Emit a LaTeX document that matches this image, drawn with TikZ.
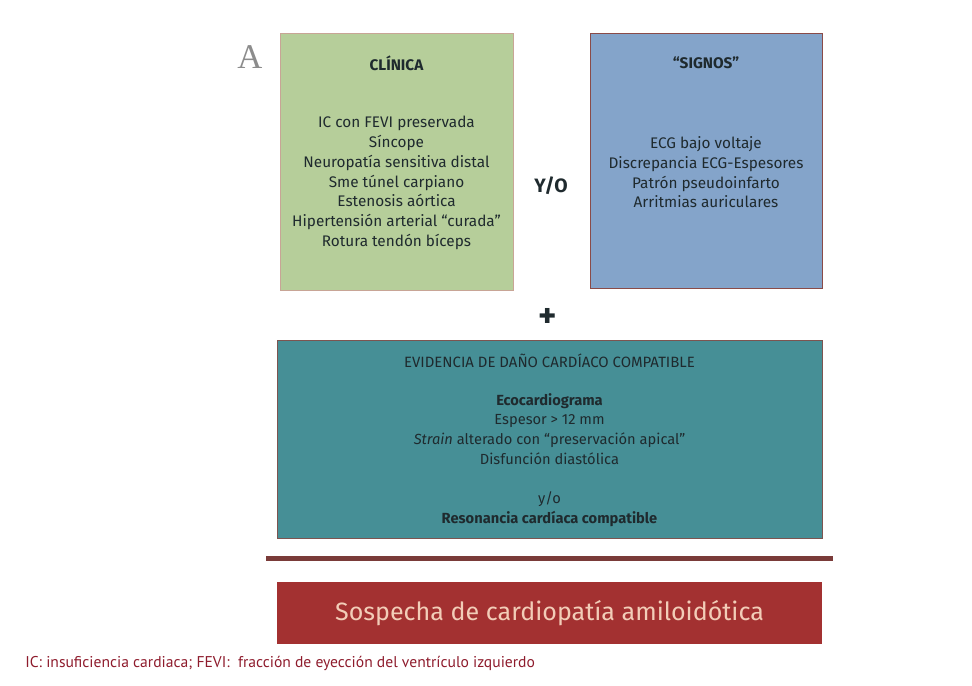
\documentclass[tikz,border=0pt]{standalone}
\usepackage{fontspec}
\setmainfont{Fira Sans}
\newfontfamily\notefont{PT Sans}
\newfontfamily\letterfont{Liberation Serif}
\usetikzlibrary{positioning}
\definecolor{cGreen}{HTML}{B6CE9A}
\definecolor{cGreenLine}{HTML}{C8A596}
\definecolor{cBlue}{HTML}{84A4CA}
\definecolor{cBlueLine}{HTML}{8A4B48}
\definecolor{cTeal}{HTML}{468F96}
\definecolor{cTealLine}{HTML}{7D5450}
\definecolor{cRed}{HTML}{A33131}
\definecolor{cRedDark}{HTML}{7A3B39}
\definecolor{cPeach}{HTML}{F2CDB8}
\definecolor{cInk}{HTML}{1F2A2E}
\definecolor{cNote}{HTML}{8E1B2C}

\begin{document}
\begin{tikzpicture}[
  x=0.75pt, y=-0.75pt,
  panel/.style={
    draw,
    line width=0.8pt,
    inner sep=0pt,
    anchor=north west
  },
  paneltitle/.style={
    font=\fontsize{11.5}{13}\selectfont\bfseries,
    text=cInk
  },
  paneltext/.style={
    font=\fontsize{11.5}{14.8}\selectfont,
    text=cInk,
    align=center
  },
  joiner/.style={
    font=\fontsize{14.5}{16}\selectfont\bfseries,
    text=cInk
  },
  sepline/.style={
    draw=cRedDark,
    line width=3.75pt
  }
]
\useasboundingbox (0,0) rectangle (972,686);

\node[font=\letterfont\fontsize{26}{30}\selectfont, text=black!45] (lblA) at (250,57) {A};

% clinica
\node[panel, fill=cGreen, draw=cGreenLine, minimum width=174.75pt, minimum height=192.75pt] (clin) at (280,33) {};
\node[paneltitle] (clinT) at (396.5,63) {CLÍNICA};
\node[paneltext] (clinB) at (396.5,183) {
  IC con FEVI preservada\\
  Síncope\\
  Neuropatía sensitiva distal\\
  Sme túnel carpiano\\
  Estenosis aórtica\\
  Hipertensión arterial “curada”\\
  Rotura tendón bíceps
};

% signos
\node[panel, fill=cBlue, draw=cBlueLine, minimum width=174pt, minimum height=191.25pt] (sig) at (590,33) {};
\node[paneltitle] (sigT) at (706,63) {“SIGNOS”};
\node[paneltext] (sigB) at (706,172.5) {
  ECG bajo voltaje\\
  Discrepancia ECG-Espesores\\
  Patrón pseudoinfarto\\
  Arritmias auriculares
};

\node[joiner] (yo) at (551,186) {Y/O};
\node[joiner, font=\fontsize{26}{28}\selectfont\bfseries] (plus) at (548,318) {+};

% evidencia
\node[panel, fill=cTeal, draw=cTealLine, minimum width=408.75pt, minimum height=148.5pt] (evid) at (277,340) {};
\node[paneltext, font=\fontsize{11.2}{14.8}\selectfont] (evidT) at (549.5,361) {EVIDENCIA DE DAÑO CARDÍACO COMPATIBLE};
\node[paneltext, font=\fontsize{11}{14.8}\selectfont] (evidB) at (549.5,460) {
  \textbf{Ecocardiograma}\\
  Espesor > 12 mm\\
  \textit{Strain} alterado con “preservación apical”\\
  Disfunción diastólica\\[14.8pt]
  y/o\\
  \textbf{Resonancia cardíaca compatible}
};

\coordinate (sepL) at (266,558);
\coordinate (sepR) at (833,558);
\draw[sepline] (sepL) -- (sepR);

% sospecha
\node[panel, fill=cRed, draw=cRed, minimum width=408pt, minimum height=45.75pt,
  font=\fontsize{18.8}{22}\selectfont, text=cPeach] (susp) at (277,582) {Sospecha de cardiopatía amiloidótica};

\node[anchor=west, inner sep=0pt, font=\notefont\fontsize{11.7}{14}\selectfont, text=cNote] (note) at (25,663)
  {IC: insuficiencia cardiaca; FEVI:\ \ fracción de eyección del ventrículo izquierdo};

\end{tikzpicture}
\end{document}
